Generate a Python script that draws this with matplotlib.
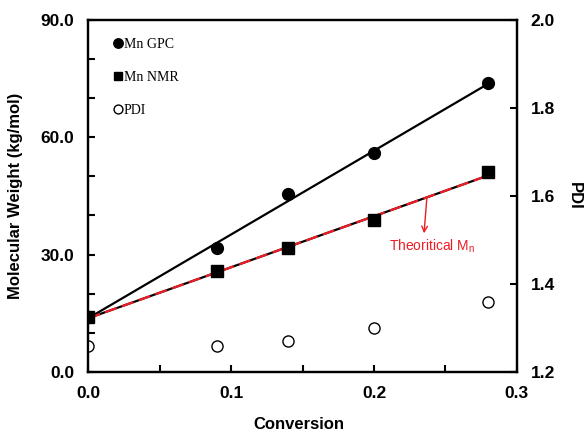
import numpy as np
import matplotlib
matplotlib.use('Agg')
import matplotlib.pyplot as plt
from matplotlib.ticker import MultipleLocator, FormatStrFormatter

# data
conversion = [0.0, 0.09, 0.14, 0.20, 0.28]
mn_gpc = [14.1, 31.6, 45.4, 55.9, 73.8]
mn_nmr = [14.0, 25.8, 31.6, 38.9, 51.0]
pdi = [1.26, 1.26, 1.27, 1.30, 1.36]

plt.rcParams['font.family'] = ['Liberation Sans', 'DejaVu Sans']
red = '#ee1c25'

fig = plt.figure(figsize=(5.86, 4.33), dpi=100)
ax1 = fig.add_axes([0.151, 0.141, 0.731, 0.813])
ax2 = ax1.twinx()

# linear fits through the measured points
x = np.array(conversion)
xfit = np.array([0.0, x.max()])
p_gpc = np.polyfit(x, mn_gpc, 1)
p_nmr = np.polyfit(x, mn_nmr, 1)
ax1.plot(xfit, np.polyval(p_gpc, xfit), color='black', lw=1.6, zorder=2)
ax1.plot(xfit, np.polyval(p_nmr, xfit), color='black', lw=1.6, zorder=2)
ax1.plot(xfit, np.polyval(p_nmr, xfit), color=red, lw=1.6, dashes=(5.5, 2.5), zorder=3)

h1, = ax1.plot(conversion, mn_gpc, 'o', color='black', ms=8.5, ls='none', label='Mn GPC', zorder=4)
h2, = ax1.plot(conversion, mn_nmr, 's', color='black', ms=8, ls='none', label='Mn NMR', zorder=4)
h3, = ax2.plot(conversion, pdi, 'o', mfc='white', mec='black', mew=1.0, ms=8, ls='none', label='PDI')

# annotation for the theoretical line
xa = 0.237
ya = np.polyval(p_nmr, xa)
ax1.annotate('', xy=(xa - 0.002, ya - 9.2), xytext=(xa, ya),
             arrowprops=dict(arrowstyle='->', color=red, lw=1.0, shrinkA=0, shrinkB=0))
ax1.text(xa + 0.004, ya - 12.5, 'Theoritical M$_\\mathregular{n}$', color=red,
         fontsize=10, ha='center', va='center')

# axes limits and ticks
ax1.set_xlim(0, 0.3)
ax1.set_ylim(0, 90)
ax2.set_ylim(1.2, 2.0)
ax1.xaxis.set_major_locator(MultipleLocator(0.1))
ax1.xaxis.set_minor_locator(MultipleLocator(0.05))
ax1.yaxis.set_major_locator(MultipleLocator(30))
ax1.yaxis.set_minor_locator(MultipleLocator(10))
ax2.yaxis.set_major_locator(MultipleLocator(0.2))
ax1.xaxis.set_major_formatter(FormatStrFormatter('%.1f'))
ax1.yaxis.set_major_formatter(FormatStrFormatter('%.1f'))
ax2.yaxis.set_major_formatter(FormatStrFormatter('%.1f'))

for ax in (ax1, ax2):
    for s in ax.spines.values():
        s.set_linewidth(1.6)
    ax.tick_params(which='both', direction='in', length=5, width=1.5, labelsize=12.5, pad=10)
    for lab in ax.get_xticklabels() + ax.get_yticklabels():
        lab.set_fontweight('bold')
ax1.tick_params(which='both', right=False, top=False)

ax1.set_xlabel('Conversion', fontsize=12, fontweight='bold')
ax1.set_ylabel('Molecular Weight (kg/mol)', fontsize=12, fontweight='bold')
ax2.set_ylabel('PDI', fontsize=12, fontweight='bold', rotation=270)
ax1.xaxis.set_label_coords(0.49, -0.128)
ax1.yaxis.set_label_coords(-0.153, 0.5)
ax2.yaxis.set_label_coords(1.151, 0.5)

ax2.legend(handles=[h1, h2, h3], loc='upper left', bbox_to_anchor=(0.058, 0.95),
           frameon=False, handlelength=0.7, handletextpad=0.05, labelspacing=1.45,
           borderpad=0, borderaxespad=0, markerscale=0.8,
           prop=dict(family='Liberation Serif', size=10))

fig.savefig('out.png', dpi=100)
